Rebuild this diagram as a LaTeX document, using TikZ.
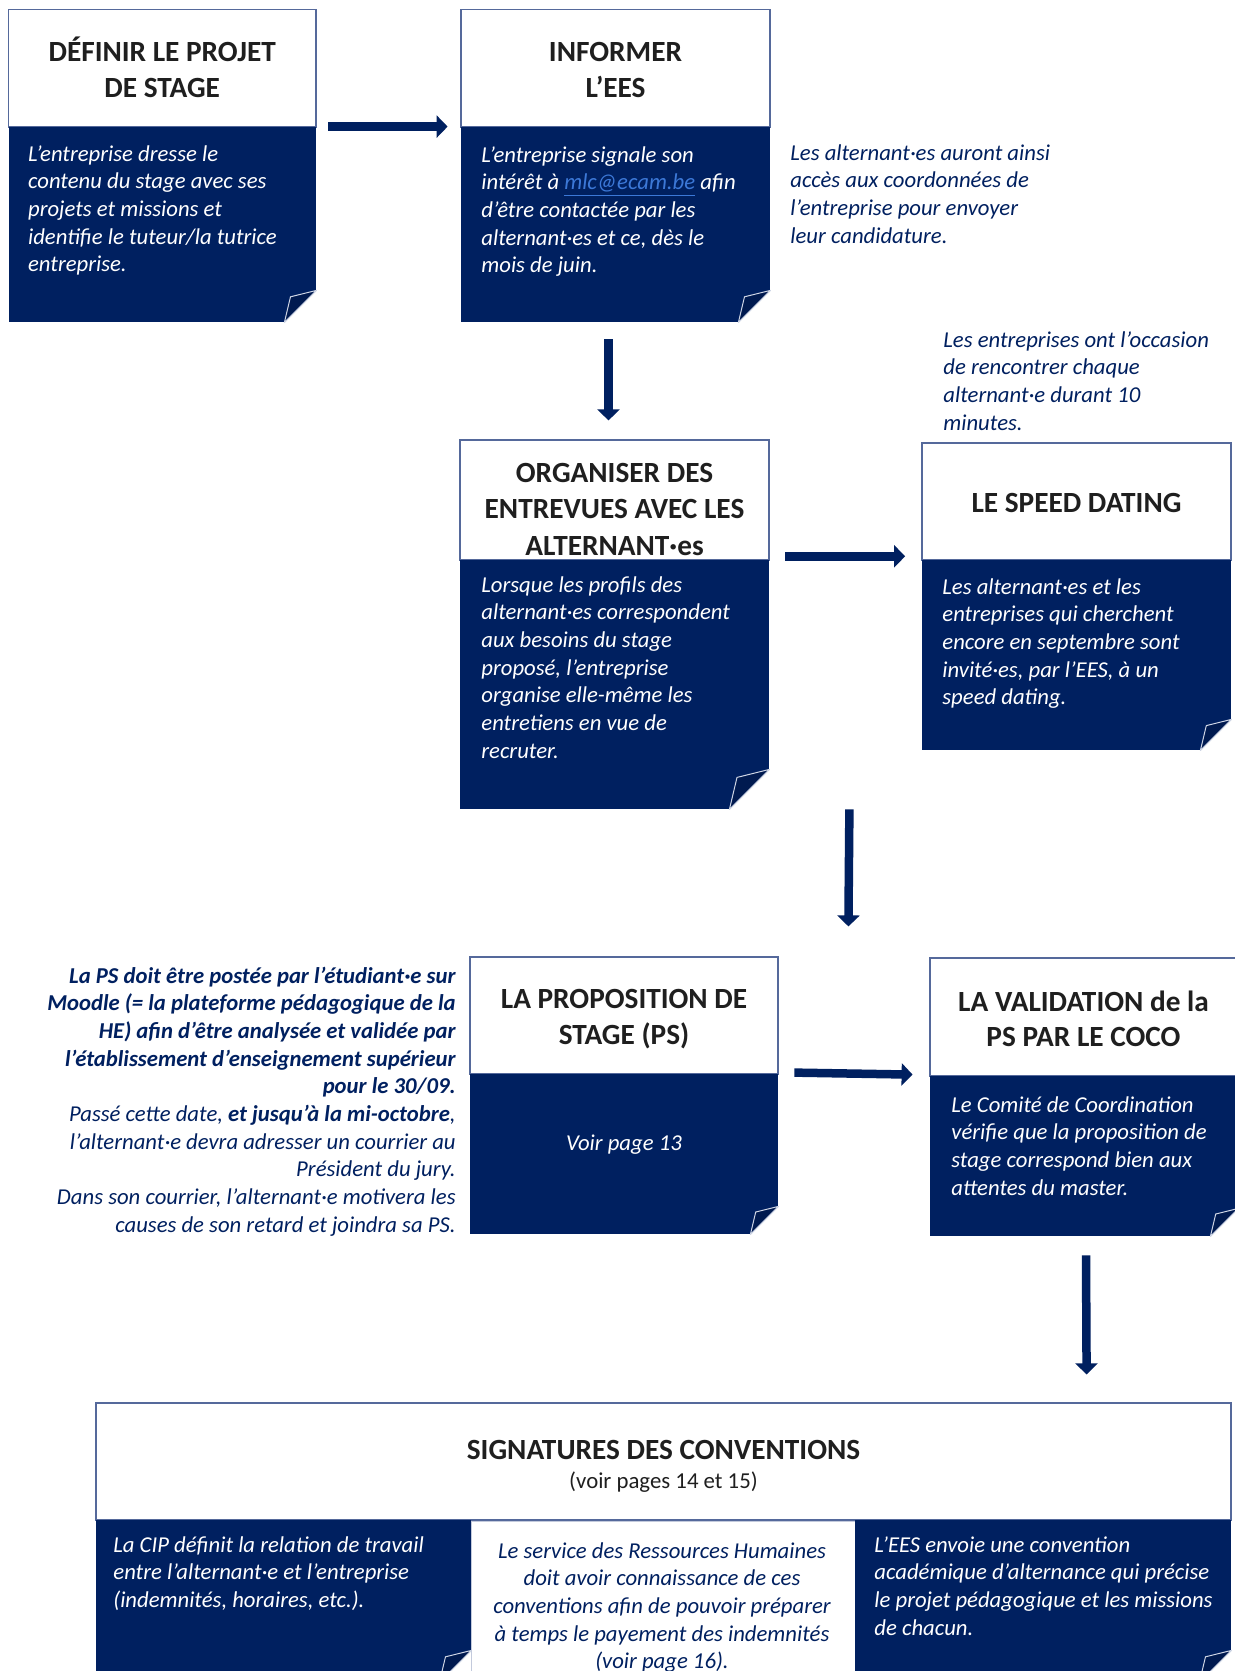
\documentclass[tikz,border=0pt]{standalone}
\usepackage{fontspec}
\setmainfont{Carlito}
\usetikzlibrary{arrows.meta,fit}
\definecolor{navy}{RGB}{0,32,96}
\definecolor{navyd}{RGB}{0,26,80}
\definecolor{hdrline}{RGB}{85,105,155}
\definecolor{linkblue}{RGB}{60,120,215}
\definecolor{foldline}{RGB}{205,212,228}
% #1 = corner anchor, #2 = fold size (px)
\newcommand\cardfold[2]{%
  \fill[white] (#1) -- ++(0,-#2) -- ++(-#2,#2) -- cycle;
  \filldraw[fill=navyd, draw=foldline, line width=0.5pt, line join=round]
    ([xshift=-#2*0.5pt]#1) -- ++(0.19*#2,-0.8*#2) -- ++(0.81*#2,-0.2*#2) -- cycle;}
\begin{document}
\begin{tikzpicture}[x=0.5pt,y=-0.5pt,
  hdr/.style={draw=hdrline, line width=0.6pt, fill=white, inner sep=0pt},
  ttl/.style={inner sep=0pt, anchor=base, align=flush center, text width=150pt, text=black!88,
    font=\bfseries\fontsize{14.65}{17.85}\selectfont},
  card/.style={fill=navy, draw=none, inner sep=0pt},
  midcard/.style={fill=white, draw=hdrline!35, line width=0.5pt, inner sep=0pt},
  btxt/.style={text=white, inner sep=0pt, anchor=base west, align=flush left, text width=190pt,
    font=\itshape\fontsize{11.35}{13.85}\selectfont},
  note/.style={text=navy, inner sep=0pt, anchor=base west, align=flush left, text width=190pt,
    font=\itshape\fontsize{11.35}{13.85}\selectfont},
  arr/.style={draw=navy, line width=4.25pt, -{Triangle[width=11pt,length=5.5pt]}}
]
\useasboundingbox (0,0) rectangle (1235,1671);
\clip (0,0) rectangle (1235,1671);
\fill[white] (0,0) rectangle (1235,1671);

% ---- Card 1
\node[hdr, fit={(8.5,9.5) (316,127)}] (h1) {};
\node[ttl] (tt1) at (162.25,61.5) {DÉFINIR LE PROJET\\DE STAGE};
\node[card, fit={(8.5,127) (316,322)}] (b1) {};
\cardfold{b1.south east}{32}
\node[btxt] (t1) at (27.7,161) {L’entreprise dresse le\\contenu du stage avec ses\\projets et missions et\\identifie le tuteur/la tutrice\\entreprise.};

% ---- Card 2
\node[hdr, fit={(461,9.5) (770,127)}] (h2) {};
\node[ttl] (tt2) at (615.5,61.5) {INFORMER\\L’EES};
\node[card, fit={(461,127) (770,322)}] (b2) {};
\cardfold{b2.south east}{32}
\node[btxt] (t2) at (481,162) {L’entreprise signale son\\intérêt à {\color{linkblue}\underline{mlc@ecam.be}} afin\\d’être contactée par les\\alternant·es et ce, dès le\\mois de juin.};
\node[note] (n1) at (790,160) {Les alternant·es auront ainsi\\accès aux coordonnées de\\l’entreprise pour envoyer\\leur candidature.};

% ---- Card 3
\node[hdr, fit={(460,440) (769,560)}] (h3) {};
\node[ttl, font=\bfseries\fontsize{14.65}{18.3}\selectfont] (tt3) at (614.5,482) {ORGANISER DES\\ENTREVUES AVEC LES\\ALTERNANT·es};
\node[card, fit={(460,560) (769,809)}] (b3) {};
\cardfold{b3.south east}{40}
\node[btxt] (t3) at (481,592) {Lorsque les profils des\\alternant·es correspondent\\aux besoins du stage\\proposé, l’entreprise\\organise elle-même les\\entretiens en vue de\\recruter.};

% ---- Card 4
\node[note] (n2) at (943,347) {Les entreprises ont l’occasion\\de rencontrer chaque\\alternant·e durant 10\\minutes.};
\node[hdr, fit={(922,443) (1231,560)}] (h4) {};
\node[ttl] (tt4) at (1076.5,512) {LE SPEED DATING};
\node[card, fit={(922,560) (1231,750)}] (b4) {};
\cardfold{b4.south east}{31}
\node[btxt] (t4) at (942,594) {Les alternant·es et les\\entreprises qui cherchent\\encore en septembre sont\\invité·es, par l’EES, à un\\speed dating.};

% ---- Card 5
\node[hdr, fit={(470,957) (778,1074)}] (h5) {};
\node[ttl] (tt5) at (624,1008.7) {LA PROPOSITION DE\\STAGE (PS)};
\node[card, fit={(470,1074) (778,1234)}] (b5) {};
\cardfold{b5.south east}{28}
\node[btxt, anchor=base, align=flush center, text width=140pt] (t5) at (624,1150) {Voir page 13};
\node[note, anchor=base east, align=flush right, text width=230pt] (n3) at (456,983) {\textbf{La PS doit être postée par l’étudiant·e sur}\\\textbf{Moodle (= la plateforme pédagogique de la}\\\textbf{HE) afin d’être analysée et validée par}\\\textbf{l’établissement d’enseignement supérieur}\\\textbf{pour le 30/09.}\\Passé cette date, \textbf{et jusqu’à la mi-octobre},\\l’alternant·e devra adresser un courrier au\\Président du jury.\\Dans son courrier, l’alternant·e motivera les\\causes de son retard et joindra sa PS.};

% ---- Card 6
\node[hdr, fit={(930,958) (1238,1076)}] (h6) {};
\node[ttl] (tt6) at (1083.5,1011) {LA VALIDATION de la\\PS PAR LE COCO};
\node[card, fit={(930,1076) (1238,1236)}] (b6) {};
\cardfold{b6.south east}{28}
\node[btxt] (t6) at (951,1112) {Le Comité de Coordination\\vérifie que la proposition de\\stage correspond bien aux\\attentes du master.};

% ---- Signatures
\node[hdr, fit={(96,1403) (1231,1520)}] (hS) {};
\node[ttl, text width=300pt] (tS) at (663.5,1459.5) {SIGNATURES DES CONVENTIONS};
\node[ttl, text width=300pt, font=\fontsize{11.4}{13.85}\selectfont] (tS2) at (663.5,1488) {(voir pages 14 et 15)};
\node[card, fit={(96,1520) (471,1682)}] (pL) {};
\cardfold{pL.south east}{32}
\node[midcard, fit={(471,1521) (855,1700)}] (pM) {};
\node[card, fit={(855,1520) (1231,1682)}] (pR) {};
\cardfold{pR.south east}{32}
\node[btxt] (tL) at (113,1552) {La CIP définit la relation de travail\\entre l’alternant·e et l’entreprise\\(indemnités, horaires, etc.).};
\node[note, anchor=base, align=flush center, text width=185pt] (tM) at (662,1558) {Le service des Ressources Humaines\\doit avoir connaissance de ces\\conventions afin de pouvoir préparer\\à temps le payement des indemnités\\(voir page 16).};
\node[btxt] (tR) at (874,1552) {L’EES envoie une convention\\académique d’alternance qui précise\\le projet pédagogique et les missions\\de chacun.};

% ---- Arrows
\draw[arr] ([xshift=6pt]b1.north east) -- ([xshift=-6.5pt]b2.north west);
\draw[arr] ([xshift=-3.5pt,yshift=-8.5pt]b2.south) -- ([xshift=-3pt,yshift=9.5pt]h3.north);
\draw[arr] ([xshift=8pt,yshift=1.65pt]b3.north east) -- ([xshift=-8.25pt,yshift=1.65pt]b4.north west);
\draw[arr] ([xshift=40pt]b3.south east) -- ([xshift=-40.5pt,yshift=15.5pt]h6.north west);
\draw[arr] ([xshift=8pt,yshift=0.5pt]b5.north east) -- ([xshift=-8.5pt,yshift=0.5pt]b6.north west);
\draw[arr] ([xshift=1pt,yshift=-9.5pt]b6.south) -- ([xshift=-72.5pt,yshift=14pt]hS.north east);
\end{tikzpicture}
\end{document}
